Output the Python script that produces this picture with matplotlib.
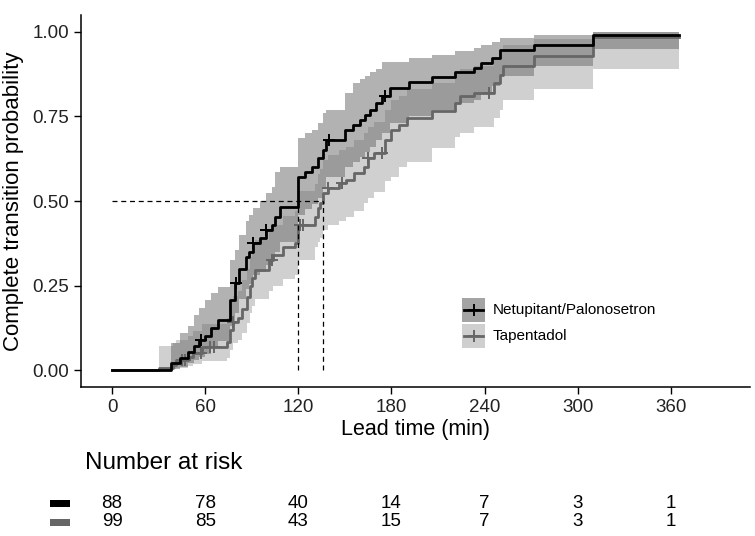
import numpy as np
import matplotlib.pyplot as plt
from matplotlib.patches import Rectangle
from matplotlib.lines import Line2D

plt.rcParams['font.family'] = ['Liberation Sans', 'DejaVu Sans']

### Data ###
# Netupitant/Palonosetron: event times, cumulative probability, CI bounds
np_time = [38, 44, 49, 53, 56, 60, 64, 68, 76, 79, 82, 86, 88, 91, 95, 99, 103, 105, 108,
           120, 124, 129, 133, 136, 138, 150, 155, 160, 163, 166, 170, 174, 179, 191,
           206, 221, 233, 238, 245, 250, 272, 310]
np_surv = [.020, .036, .053, .070, .089, .100, .124, .148, .207, .257, .300, .334, .350, .376,
           .390, .414, .430, .453, .482, .571, .586, .600, .627, .650, .680, .710, .725, .740,
           .755, .770, .790, .810, .834, .852, .867, .882, .893, .908, .923, .947, .962, .990]
np_lower = [.003, .010, .020, .030, .040, .048, .065, .085, .130, .170, .210, .240, .255, .280,
            .290, .310, .330, .350, .380, .460, .475, .490, .510, .540, .570, .600, .615, .630,
            .645, .660, .680, .700, .730, .750, .770, .790, .800, .820, .840, .870, .900, .950]
np_upper = [.080, .110, .130, .163, .183, .207, .228, .246, .325, .355, .400, .440, .460, .480,
            .500, .524, .540, .586, .600, .686, .700, .710, .730, .760, .770, .820, .850, .860,
            .870, .880, .890, .910, .910, .923, .932, .945, .953, .960, .970, .982, .990, 1.0]
np_censor = [57, 80, 91, 99, 140, 176]

# Tapentadol
tp_time = [30, 39, 41, 49, 52, 58, 74, 76, 78, 81, 84, 87, 89, 90, 92, 101, 104, 110, 118,
           120, 131, 133, 134, 136, 139, 146, 151, 156, 162, 165, 169, 176, 180, 185, 190,
           206, 221, 224, 233, 246, 250, 252, 272, 310]
tp_surv = [.006, .015, .030, .040, .050, .068, .083, .118, .142, .154, .180, .216, .250, .272,
           .296, .325, .340, .364, .376, .430, .453, .480, .494, .524, .538, .553, .562, .583,
           .600, .627, .642, .680, .710, .725, .746, .765, .790, .810, .820, .850, .873, .900,
           .930, .985]
tp_lower = [.000, .002, .006, .012, .018, .028, .035, .060, .080, .090, .110, .140, .170, .190,
            .210, .235, .250, .270, .280, .325, .364, .380, .390, .414, .430, .440, .453, .470,
            .494, .510, .527, .560, .570, .600, .615, .657, .690, .700, .720, .745, .770, .800,
            .830, .890]
tp_upper = [.070, .080, .090, .100, .115, .135, .155, .200, .220, .235, .265, .300, .335, .360,
            .385, .415, .430, .455, .470, .530, .550, .580, .595, .620, .635, .650, .660, .680,
            .700, .720, .735, .770, .800, .810, .830, .850, .875, .890, .900, .920, .940, .960,
            .980, 1.0]
tp_censor = [45, 47, 57, 63, 66, 78, 103, 121, 123, 139, 148, 165, 174, 243]

t_end = 365
medians = [120, 136]

risk_times = [0, 60, 120, 180, 240, 300, 360]
risk_np = [88, 78, 40, 14, 7, 3, 1]
risk_tp = [99, 85, 43, 15, 7, 3, 1]

labels = ["Netupitant/Palonosetron", "Tapentadol"]
line_cols = ["#000000", "#666666"]
band_cols = ["#000000", "#666666"]
key_cols = ["#a4a4a4", "#cfcfcf"]

W, H = 755, 536


def px(x, y):
    return x / W, 1 - y / H


### Figure ###
fig = plt.figure(figsize=(W / 100, H / 100), dpi=100)
ax = fig.add_axes([81 / W, 1 - 387 / H, (750 - 81) / W, (387 - 15) / H])

series = [(np_time, np_surv, np_lower, np_upper, np_censor),
          (tp_time, tp_surv, tp_lower, tp_upper, tp_censor)]

for i, (t, s, lo, hi, cens) in enumerate(series):
    tb = list(t) + [t_end]
    ax.fill_between(tb, list(lo) + [lo[-1]], list(hi) + [hi[-1]], step='post',
                    color=band_cols[i], alpha=0.3, linewidth=0, zorder=1 + i)

for i, (t, s, lo, hi, cens) in enumerate(series):
    tl = [0] + list(t) + [t_end]
    sl = [0] + list(s) + [s[-1]]
    ax.step(tl, sl, where='post', color=line_cols[i], linewidth=2.0, zorder=5 - i)
    idx = np.searchsorted(t, cens, side='right') - 1
    cy = [s[k] if k >= 0 else 0 for k in idx]
    ax.plot(cens, cy, '+', color=line_cols[i], markersize=9, markeredgewidth=1.4, zorder=5 - i)

# median lines
ax.plot([0, max(medians)], [0.5, 0.5], '--', color='black', linewidth=0.9, dashes=(4, 3), zorder=6)
for m in medians:
    ax.plot([m, m], [0, 0.5], '--', color='black', linewidth=0.9, dashes=(4, 3), zorder=6)

ax.set_xlim(-20, 411)
ax.set_ylim(-0.05, 1.05)
ax.set_xticks(risk_times)
ax.set_yticks([0, 0.25, 0.5, 0.75, 1.0])
ax.set_yticklabels(["0.00", "0.25", "0.50", "0.75", "1.00"])
ax.tick_params(labelsize=13.5, length=5, width=1, colors='black', labelcolor='#222222')
for side in ['top', 'right']:
    ax.spines[side].set_visible(False)
for side in ['left', 'bottom']:
    ax.spines[side].set_linewidth(1.1)
ax.set_xlabel("Lead time (min)", fontsize=15.5, labelpad=2)
ax.set_ylabel("Complete transition probability", fontsize=16, labelpad=6)

# legend drawn by hand
for i, lab in enumerate(labels):
    ytop = 298 + i * 26
    x0, y0 = px(462, ytop + 24)
    fig.add_artist(Rectangle((x0, y0), 23 / W, 24 / H, transform=fig.transFigure,
                             facecolor=key_cols[i], edgecolor='none'))
    yc = ytop + 12
    fig.add_artist(Line2D([464 / W, 483 / W], [1 - yc / H] * 2, transform=fig.transFigure,
                          color=line_cols[i], linewidth=2.0))
    fig.add_artist(Line2D([473.5 / W], [1 - yc / H], transform=fig.transFigure, marker='+',
                          color=line_cols[i], markersize=9, markeredgewidth=1.4))
    fig.text(493 / W, 1 - yc / H, lab, fontsize=11, va='center', ha='left')

# risk table
tab = fig.add_axes([81 / W, 0, (750 - 81) / W, 1 - 440 / H])
tab.set_xlim(ax.get_xlim())
tab.set_ylim(H, 440)
tab.axis('off')
fig.text(85 / W, 1 - 463 / H, "Number at risk", fontsize=17.5, va='center', ha='left')
for row, (vals, yy) in enumerate([(risk_np, 503), (risk_tp, 522)]):
    for t, v in zip(risk_times, vals):
        tab.text(t, yy, str(v), fontsize=13.5, ha='center', va='center')
    x0, y0 = px(50, yy + 4)
    fig.add_artist(Rectangle((x0, y0), 20 / W, 7 / H, transform=fig.transFigure,
                             facecolor=line_cols[row], edgecolor='none'))

fig.savefig("out.png", dpi=100)
